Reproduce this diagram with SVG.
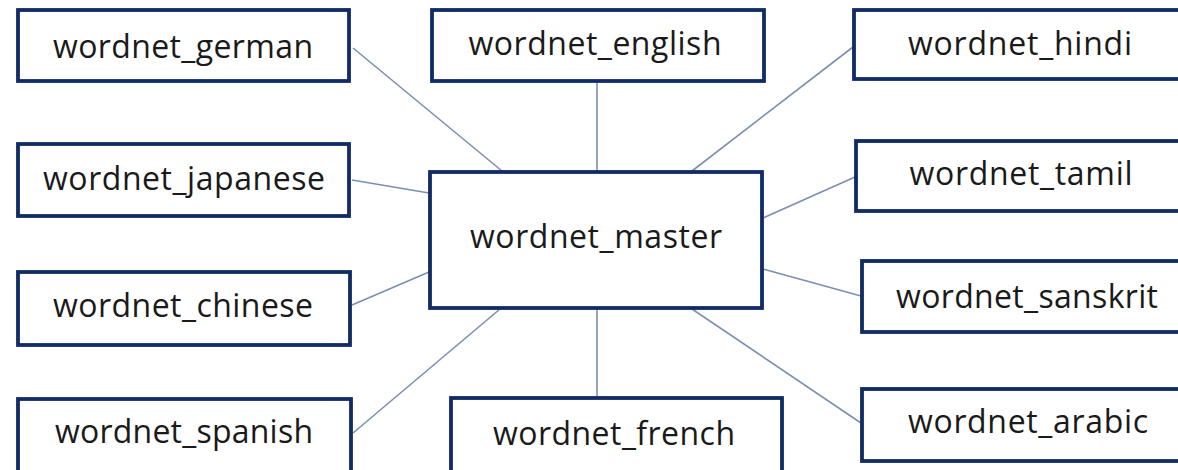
<svg xmlns="http://www.w3.org/2000/svg" width="1178" height="470" viewBox="0 0 1178 470">
  <style>
    .box { fill: #ffffff; stroke: #112b66; stroke-width: 3.8; }
    .lbl { font-family: "Open Sans", "Liberation Sans", sans-serif; font-size: 32px; fill: #1a1a1a; text-anchor: middle; }
    .link { stroke: #7b8fb3; stroke-width: 1.6; fill: none; }
  </style>
  <rect width="1178" height="470" fill="#ffffff"/>

  <!-- connectors from the master node to each language node -->
  <g id="connectors">
    <line class="link" x1="353" y1="48" x2="502" y2="171"/>
    <line class="link" x1="597" y1="83" x2="597" y2="171"/>
    <line class="link" x1="692" y1="171" x2="853" y2="47"/>
    <line class="link" x1="352" y1="180" x2="429" y2="193"/>
    <line class="link" x1="763" y1="218" x2="855" y2="177"/>
    <line class="link" x1="352" y1="305" x2="429" y2="272"/>
    <line class="link" x1="763" y1="269" x2="861" y2="296"/>
    <line class="link" x1="353" y1="433" x2="500" y2="309"/>
    <line class="link" x1="597" y1="309" x2="597" y2="397"/>
    <line class="link" x1="692" y1="309" x2="861" y2="423"/>
  </g>

  <g id="wordnet_german">
    <rect class="box" x="18" y="10" width="331" height="71"/>
    <text class="lbl" x="183" y="58" textLength="260">wordnet_german</text>
  </g>
  <g id="wordnet_english">
    <rect class="box" x="432" y="10" width="332" height="71"/>
    <text class="lbl" x="595" y="55" textLength="253">wordnet_english</text>
  </g>
  <g id="wordnet_hindi">
    <rect class="box" x="854" y="10" width="340" height="69"/>
    <text class="lbl" x="1020" y="55" textLength="224">wordnet_hindi</text>
  </g>
  <g id="wordnet_japanese">
    <rect class="box" x="18" y="144" width="331" height="72"/>
    <text class="lbl" x="184" y="190" textLength="282">wordnet_japanese</text>
  </g>
  <g id="wordnet_tamil">
    <rect class="box" x="856" y="141" width="340" height="70"/>
    <text class="lbl" x="1021" y="185" textLength="223">wordnet_tamil</text>
  </g>
  <g id="wordnet_master">
    <rect class="box" x="430" y="172" width="332" height="136"/>
    <text class="lbl" x="596" y="248" textLength="252">wordnet_master</text>
  </g>
  <g id="wordnet_chinese">
    <rect class="box" x="18" y="272" width="332" height="73"/>
    <text class="lbl" x="183" y="317" textLength="260">wordnet_chinese</text>
  </g>
  <g id="wordnet_sanskrit">
    <rect class="box" x="862" y="261" width="340" height="71"/>
    <text class="lbl" x="1027" y="308" textLength="262">wordnet_sanskrit</text>
  </g>
  <g id="wordnet_spanish">
    <rect class="box" x="18" y="399" width="333" height="80"/>
    <text class="lbl" x="184" y="443" textLength="258">wordnet_spanish</text>
  </g>
  <g id="wordnet_french">
    <rect class="box" x="451" y="398" width="331" height="80"/>
    <text class="lbl" x="614" y="445" textLength="242">wordnet_french</text>
  </g>
  <g id="wordnet_arabic">
    <rect class="box" x="862" y="389" width="340" height="72"/>
    <text class="lbl" x="1028" y="433" textLength="240">wordnet_arabic</text>
  </g>
</svg>
